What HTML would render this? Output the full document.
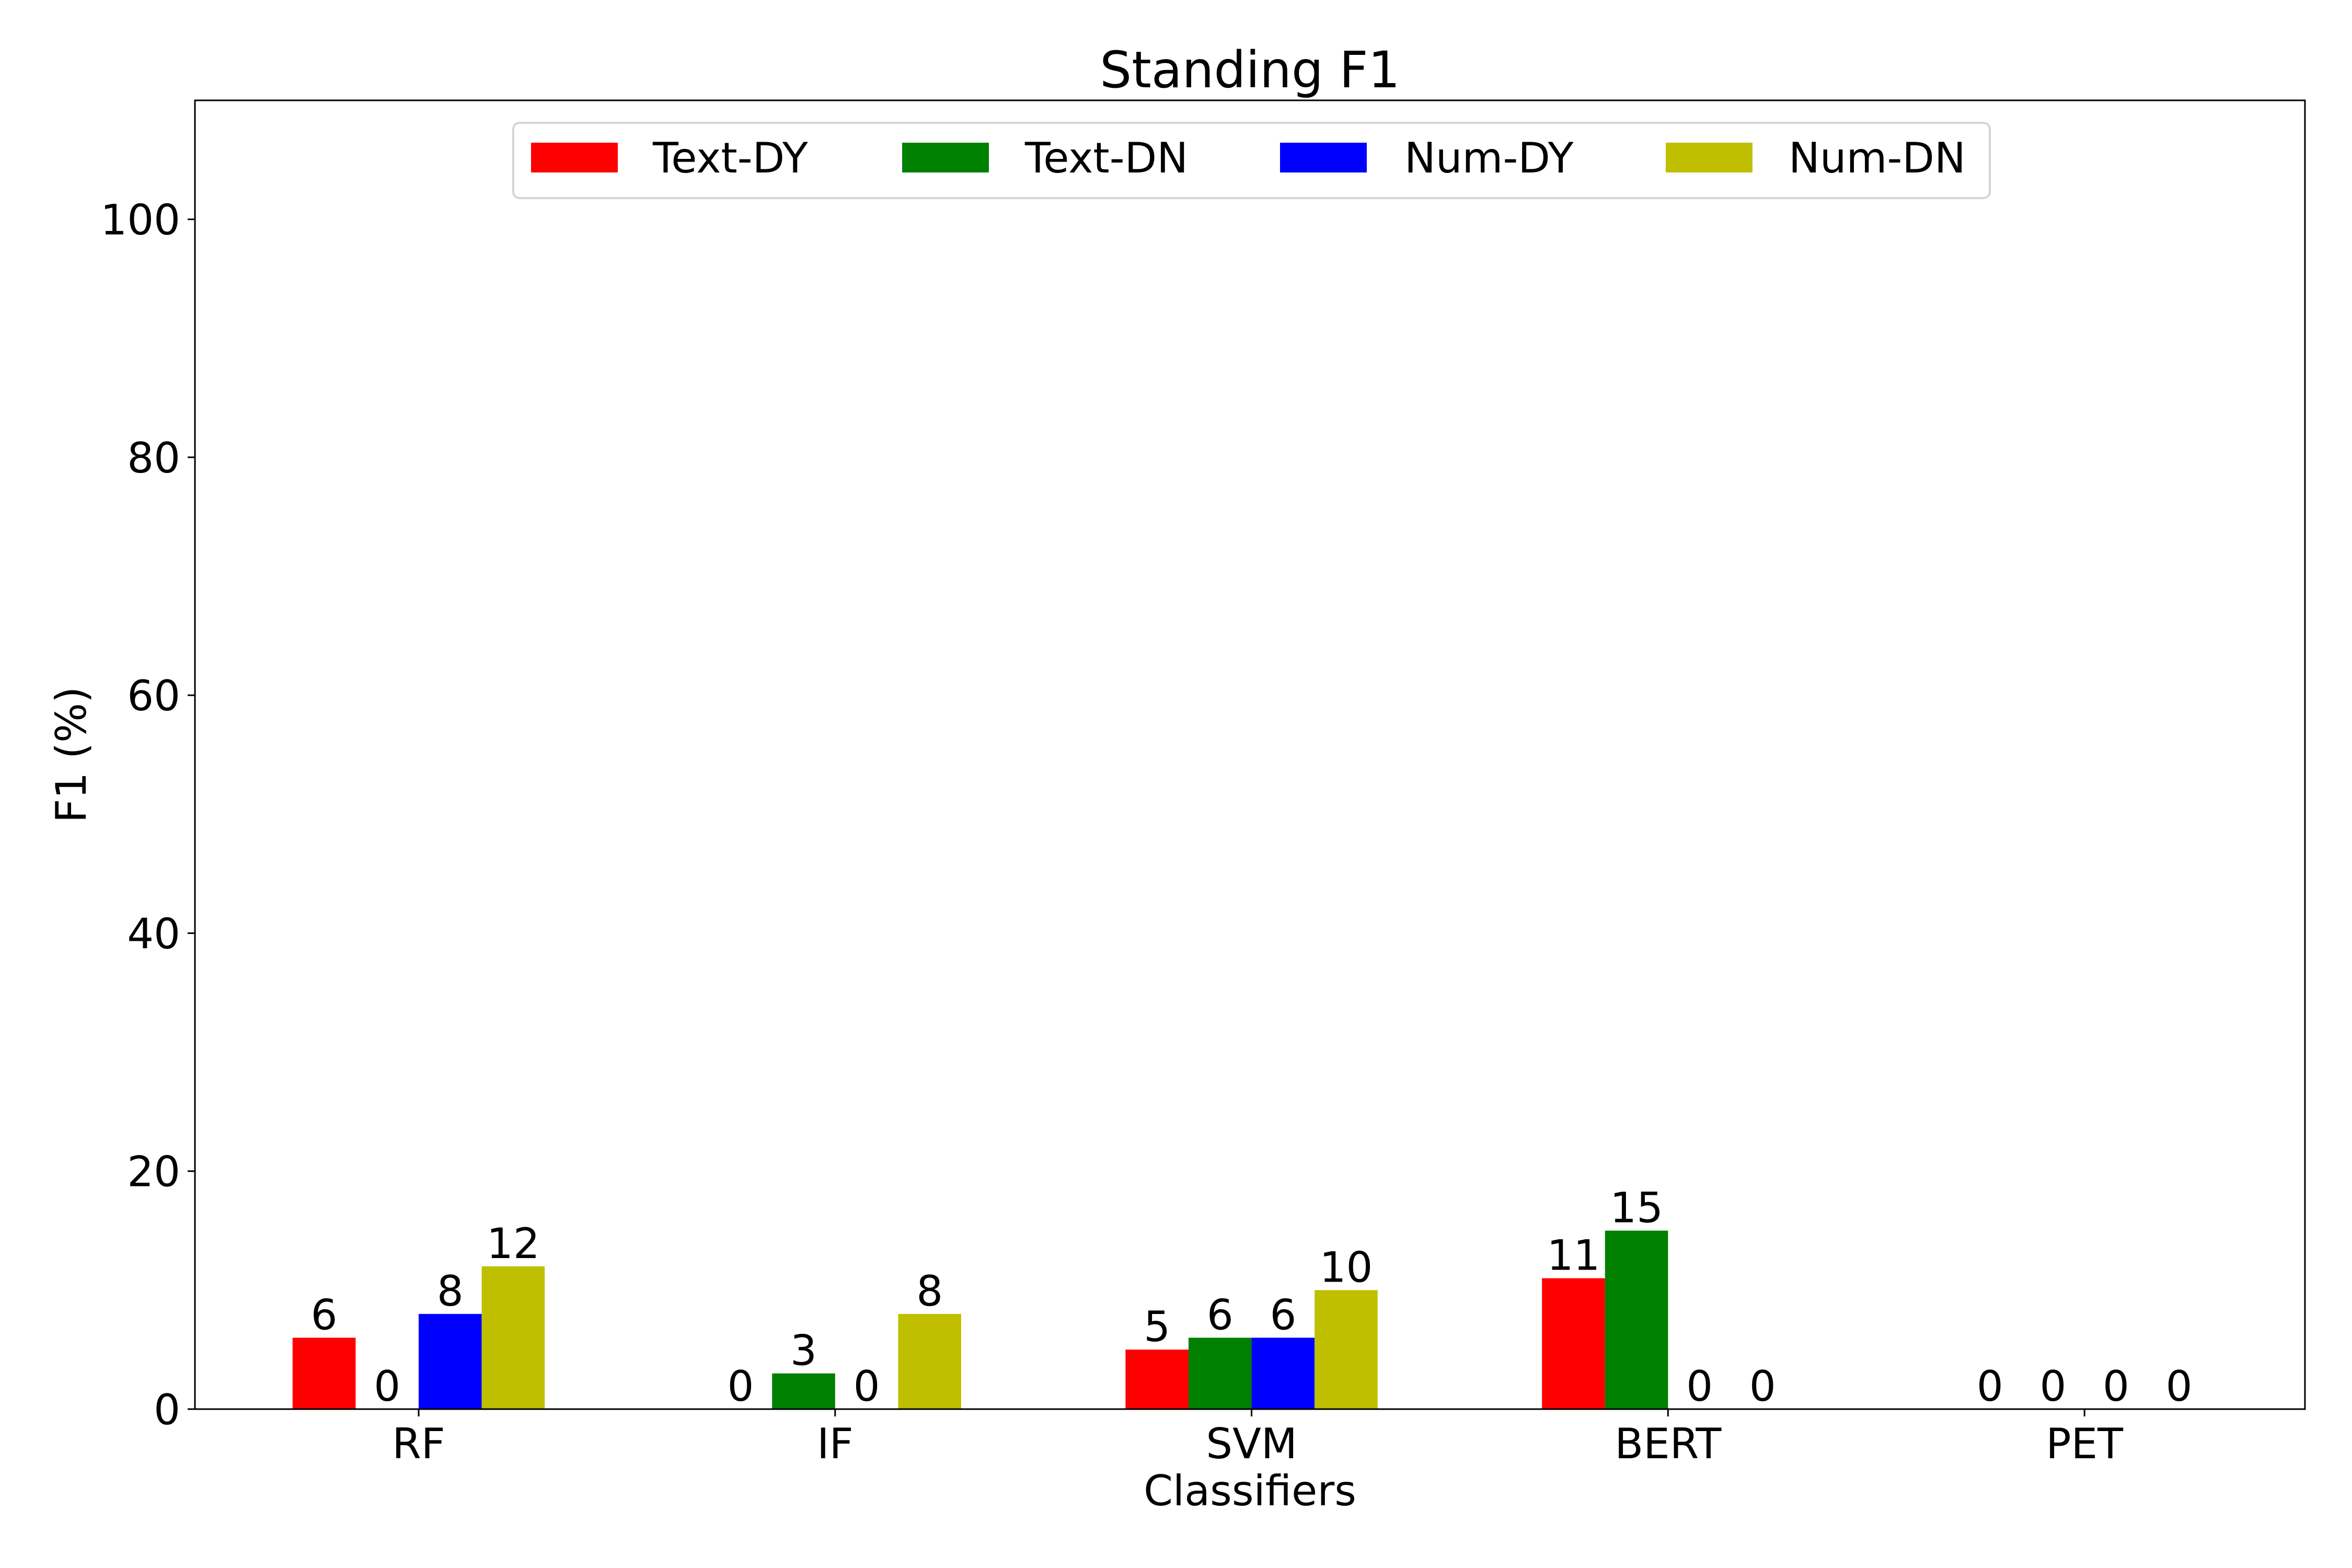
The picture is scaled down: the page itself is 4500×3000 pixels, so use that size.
<!DOCTYPE html>
<html><head><meta charset="utf-8"><style>
html,body{margin:0;padding:0;background:#fff}
svg{display:block;font-family:"DejaVu Sans","Liberation Sans",sans-serif}
</style></head><body>
<svg id="chart" width="4500" height="3000" viewBox="0 0 4500 3000">
<rect width="4500" height="3000" fill="#fff"/>
<g id="plot"></g>
</svg>
<script>
const categories = ["RF","IF","SVM","BERT","PET"];
const seriesNames = ["Text-DY","Text-DN","Num-DY","Num-DN"];
const textDY = [6,0,5,11,0];
const textDN = [0,3,6,15,0];
const numDY = [8,0,6,0,0];
const numDN = [12,8,10,0,0];
const yTicks = [0,20,40,60,80,100];
const seriesColors = ["#ff0000","#008000","#0000ff","#bfbf00"];
const series = [textDY,textDN,numDY,numDN];

const NS="http://www.w3.org/2000/svg";
const g=document.getElementById('plot');
const L=373,R=4410,T=192,B=2696,YMAX=110;
const y=v=>B-(v/YMAX)*(B-T);
const cx0=801, step=796.8, bw=120.6;
const x=i=>cx0+i*step;
function el(t,a,txt){const e=document.createElementNS(NS,t);for(const k in a)e.setAttribute(k,a[k]);if(txt!==undefined)e.textContent=txt;g.appendChild(e);return e;}

series.forEach((s,si)=>{
  s.forEach((v,ci)=>{
    const left=x(ci)+(si-2)*bw;
    const r=el('rect',{x:left,y:y(v),width:bw,height:B-y(v),fill:seriesColors[si]});
    
    
    const t=el('text',{x:left+bw/2,y:y(v)-16,'text-anchor':'middle','font-size':80,fill:'#000'},String(v));
    
    
  });
});
const fr=el('rect',{x:L,y:T,width:R-L,height:B-T,fill:'none',stroke:'#000','stroke-width':3});


yTicks.forEach(v=>{
  el('line',{x1:L-14,x2:L,y1:y(v),y2:y(v),stroke:'#000','stroke-width':3});
  const t=el('text',{x:L-28,y:y(v)+29,'text-anchor':'end','font-size':80},String(v));
  
  
});
categories.forEach((c,i)=>{
  el('line',{x1:x(i),x2:x(i),y1:B,y2:B+14,stroke:'#000','stroke-width':3});
  const t=el('text',{x:x(i),y:2790,'text-anchor':'middle','font-size':80},c);
  
  
});
let t=el('text',{x:(L+R)/2,y:167,'text-anchor':'middle','font-size':96},'Standing F1');


t=el('text',{x:(L+R)/2,y:2880,'text-anchor':'middle','font-size':80},'Classifiers');


t=el('text',{x:0,y:0,'text-anchor':'middle','font-size':80,transform:'translate(164,1444) rotate(-90)'},'F1 (%)');


const lb=el('rect',{x:982,y:235,width:2825,height:144,rx:12,fill:'#fff',stroke:'#d5d5d5','stroke-width':4});


const px=[1016,1726,2449,3187], tx=[1249,1961,2687,3422];
seriesNames.forEach((n,i)=>{
  const p=el('rect',{x:px[i],y:273,width:166,height:57,fill:seriesColors[i]});
  
  
  const tt=el('text',{x:tx[i],y:330,'font-size':80},n);
  
  
});
</script>
</body></html>
